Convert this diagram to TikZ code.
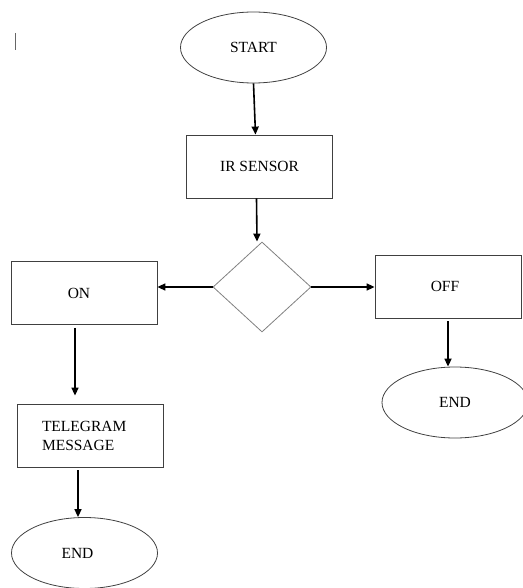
\documentclass[tikz,border=0pt]{standalone}
\usepackage{fontspec}
\setmainfont{Liberation Serif}
\usepackage{tikz}
\usetikzlibrary{shapes.geometric,arrows.meta}
\colorlet{boxLine}{black!75}
\colorlet{decisionLine}{black!50}

\begin{document}
\begin{tikzpicture}[
  x=1pt,
  y=-1pt,
  every node/.style={
    font=\fontsize{15.5}{19}\selectfont,
  },
  terminal/.style={
    ellipse,
    draw=boxLine,
    line width=0.8pt,
    minimum width=146pt,
    minimum height=71pt,
    inner sep=0pt,
  },
  process/.style={
    rectangle,
    draw=boxLine,
    line width=0.8pt,
    minimum width=146pt,
    minimum height=63pt,
    inner sep=0pt,
  },
  decision/.style={
    diamond,
    draw=decisionLine,
    line width=0.8pt,
    minimum width=98pt,
    minimum height=90pt,
    inner sep=0pt,
  },
  flow/.style={
    draw=black,
    line width=1.6pt,
    -{Triangle[length=8pt,width=7pt]},
  },
]
\useasboundingbox (0,0) rectangle (522,588);
\draw[black!60,line width=0.6pt] (15,33) -- (15,50);
\node[terminal] (start) at (253.5,47.5) {START};
\node[process] (irSensor) at (259.5,166.5) {IR SENSOR};
\node[decision] (check) at (262,287) {};
\node[process] (on) at (84,293) {\hspace*{-10pt}ON};
\node[process] (off) at (448,286.5) {\hspace*{-6pt}OFF};
\node[process,align=left,text width=96pt] (telegram) at (90,435.5) {TELEGRAM\\MESSAGE};
\node[terminal] (endOn) at (84.5,553) {\hspace*{-14pt}END};
\node[terminal] (endOff) at (455,402.5) {END};
\draw[flow] (start.south) -- ([xshift=-4pt]irSensor.north);
\draw[flow] ([xshift=-3pt]irSensor.south) -- ([xshift=-5pt]check.north);
\draw[flow] (check.west) -- (check.west -| on.east);
\draw[flow] (check.east) -- (check.east -| off.west);
\draw[flow,shorten <=3pt,shorten >=8pt] ([xshift=-9pt]on.south) -- ([xshift=-15pt]telegram.north);
\draw[flow,shorten <=3pt] ([xshift=-12pt]telegram.south) -- ([xshift=-6.5pt]endOn.north);
\draw[flow,shorten <=3pt] (off.south) -- ([xshift=-7pt]endOff.north);
\end{tikzpicture}
\end{document}
